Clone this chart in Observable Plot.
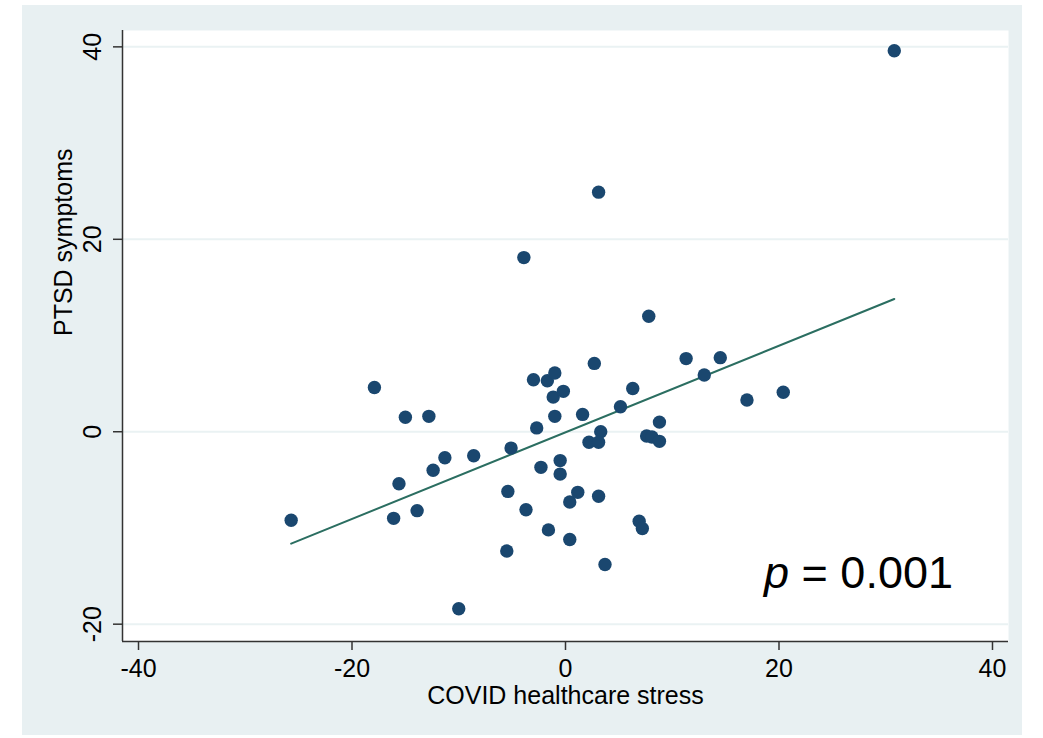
<!DOCTYPE html>
<html>
<head>
<meta charset="utf-8">
<script src="https://cdn.jsdelivr.net/npm/d3@7"></script>
<script src="https://cdn.jsdelivr.net/npm/@observablehq/plot@0.6"></script>
<style>
  html, body { margin: 0; padding: 0; background: #ffffff; }
  #panel {
    position: absolute; left: 22px; top: 5px; width: 1000px; height: 730px;
    background: #e8f0f2;
  }
  #chart { position: absolute; left: 0; top: 0; }
  #chart svg { background: transparent; }
</style>
</head>
<body>
<div id="panel"></div>
<div id="chart"></div>
<script>
// Residualized scores: COVID healthcare stress (x) vs PTSD symptoms (y)
const stress = [
  -25.7, -17.9, -15.0, -12.8, -15.6, -16.1, -13.9, -12.4, -11.3, -8.6,
  -10.0, -5.5, -5.4, -5.1, -3.7, -1.6, -2.7, -3.0, -1.7, -1.0,
  -1.15, -0.2, -1.0, -2.3, -0.5, -0.5, 0.4, 0.4, 7.8, 2.7,
  11.3, 14.5, 13.0, 1.6, 6.3, 5.15, 3.3, 2.2, 3.1, 8.8,
  7.6, 8.1, 8.8, 1.15, 3.1, 3.7, 6.9, 7.2, 17.0, 20.4,
  30.8, 3.1, -3.9
];
const ptsd = [
  -9.2, 4.6, 1.5, 1.6, -5.4, -9.0, -8.2, -4.0, -2.7, -2.5,
  -18.4, -12.4, -6.2, -1.7, -8.1, -10.2, 0.4, 5.4, 5.3, 6.1,
  3.6, 4.2, 1.6, -3.7, -3.0, -4.4, -7.3, -11.2, 12.0, 7.1,
  7.6, 7.7, 5.9, 1.8, 4.5, 2.6, 0.0, -1.1, -1.1, 1.0,
  -0.45, -0.55, -1.0, -6.3, -6.7, -13.8, -9.3, -10.05, 3.3, 4.1,
  39.6, 24.9, 18.1
];
const xTicks = [-40, -20, 0, 20, 40];
const yTicks = [-20, 0, 20, 40];
const xTitle = "COVID healthcare stress";
const yTitle = "PTSD symptoms";
const pValue = "0.001";

const points = stress.map((x, i) => ({x, y: ptsd[i]}));
const xDomain = [-41.5, 41.5];
const yDomain = [-21.8, 41.7];
const font = "'Liberation Sans', Arial, Helvetica, sans-serif";

const chart = Plot.plot({
  width: 1043,
  height: 738,
  marginLeft: 122,
  marginRight: 35,
  marginTop: 30,
  marginBottom: 97,
  style: {fontFamily: font, color: "#000", background: "transparent"},
  x: {type: "linear", domain: xDomain},
  y: {type: "linear", domain: yDomain},
  marks: [
    Plot.frame({fill: "#ffffff", stroke: "none"}),
    Plot.gridY(yTicks, {stroke: "#eaf2f3", strokeOpacity: 1, strokeWidth: 2}),
    Plot.ruleX([xDomain[0]], {stroke: "#333", strokeWidth: 1.5}),
    Plot.ruleY([yDomain[0]], {stroke: "#333", strokeWidth: 1.5}),
    Plot.axisX({ticks: xTicks, tickSize: 9, tickPadding: 9, fontSize: 25,
      tickFormat: d => String(d), label: null, stroke: "#333", strokeWidth: 1.5}),
    Plot.axisY({ticks: yTicks, tickSize: 9, tickFormat: () => "", label: null,
      stroke: "#333", strokeWidth: 1.5}),
    Plot.text(yTicks, {y: d => d, frameAnchor: "left", dx: -22, rotate: -90,
      text: d => String(d), fontSize: 25, textAnchor: "middle", lineAnchor: "bottom"}),
    Plot.text([xTitle], {frameAnchor: "bottom", dy: 54, text: d => d,
      fontSize: 25, lineAnchor: "middle"}),
    Plot.text([yTitle], {frameAnchor: "left", dx: -59, rotate: -90, text: d => d,
      fontSize: 25, lineAnchor: "middle"}),
    Plot.linearRegressionY(points, {x: "x", y: "y", stroke: "#2b6e61", strokeWidth: 2, ci: 0}),
    Plot.dot(points, {x: "x", y: "y", r: 6.7, fill: "#1a476f", stroke: "none"}),
    Plot.text([pValue], {x: 36.3, y: -14.7, text: d => "p = " + d, fontSize: 45,
      textAnchor: "end", lineAnchor: "middle", className: "pval"})
  ]
});

// Italicize the statistic symbol in the p-value annotation
d3.select(chart).selectAll(".pval text").each(function() {
  const t = d3.select(this);
  const val = t.text().replace(/^p = /, "");
  t.text(null);
  t.append("tspan").attr("font-style", "italic").text("p");
  t.append("tspan").attr("xml:space", "preserve").text(" = " + val);
});

document.getElementById("chart").appendChild(chart);
</script>
</body>
</html>
